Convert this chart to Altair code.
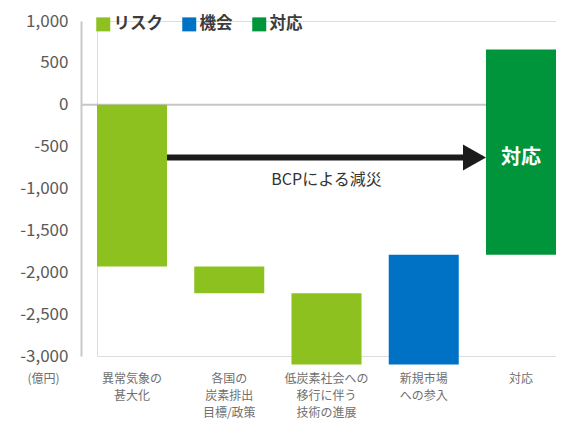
import altair as alt
import pandas as pd

categories = ["異常気象の|甚大化", "各国の|炭素排出|目標/政策", "低炭素社会への|移行に伴う|技術の進展", "新規市場|への参入", "対応"]
bar_start = [0, -1930, -2250, -3100, -1790]
bar_end = [-1930, -2250, -3100, -1790, 660]
bar_type = ["リスク", "リスク", "リスク", "機会", "対応"]
legend_names = ["リスク", "機会", "対応"]
legend_colors = ["#8CC11F", "#0072C5", "#00953A"]
y_ticks = [-3000, -2500, -2000, -1500, -1000, -500, 0, 500, 1000]
y_unit = "(億円)"

arrow_from = [categories[0]]
arrow_to = [categories[4]]
arrow_level = [-630]
note_text = ["BCPによる減災"]
note_cat = [categories[2]]
note_level = [-900]
inner_text = ["対応"]
inner_cat = [categories[4]]
inner_level = [-630]

FONT = "Noto Sans CJK JP"
W, H = 459, 335
AXIS_GAP = 16

df = pd.DataFrame({"cat": categories, "start": bar_start, "end": bar_end, "type": bar_type})
arrow_df = pd.DataFrame({"a": arrow_from, "b": arrow_to, "y": arrow_level})
note_df = pd.DataFrame({"cat": note_cat, "y": note_level, "t": note_text})
inner_df = pd.DataFrame({"cat": inner_cat, "y": inner_level, "t": inner_text})
zero_df = pd.DataFrame({"v": [0]})

xscale = alt.Scale(domain=categories, paddingInner=0.28, paddingOuter=0)
yscale = alt.Scale(domain=[-3000, 1000], nice=False, zero=False)

zero = alt.Chart(zero_df).mark_rule(color="#c6c6c6", strokeWidth=2).encode(
    y=alt.Y("v:Q", scale=yscale),
    x=alt.value(-AXIS_GAP),
    x2=alt.value(W)
)

bars = alt.Chart(df).mark_bar().encode(
    x=alt.X("cat:N", scale=xscale, sort=categories, title=None,
            axis=alt.Axis(labelExpr="split(datum.label, '|')", labelAngle=0,
                          domain=False, ticks=False, labelFont=FONT,
                          labelFontSize=12, labelLineHeight=17.4,
                          labelColor="#6f6f6f", labelPadding=17,
                          labelBaseline="top")),
    y=alt.Y("start:Q", scale=yscale, title=y_unit,
            axis=alt.Axis(values=y_ticks, grid=False, ticks=False, offset=AXIS_GAP,
                          domainColor="#c9c9c9", domainWidth=2,
                          labelExpr="(datum.value < 0 ? '-' : '') + format(abs(datum.value), ',')",
                          labelFont=FONT, labelFontSize=17, labelColor="#5a5a5a",
                          labelPadding=13,
                          titleAngle=0, titleX=-38, titleY=357,
                          titleAlign="center", titleBaseline="middle",
                          titleFont=FONT, titleFontSize=12, titleFontWeight="normal",
                          titleColor="#6f6f6f")),
    y2="end:Q",
    color=alt.Color("type:N", scale=alt.Scale(domain=legend_names, range=legend_colors),
                    legend=alt.Legend(title=None, orient="none", legendX=-2, legendY=-5,
                                      direction="horizontal", symbolType="square",
                                      symbolSize=196, symbolStrokeWidth=0, symbolOpacity=1,
                                      labelFont=FONT, labelFontSize=16.5, labelFontWeight="bold",
                                      labelColor="#3c3c3c", columnPadding=18, labelOffset=2))
)

arrow_line = alt.Chart(arrow_df).mark_rule(color="#1b1b1b", strokeWidth=6, x2Offset=-14).encode(
    x=alt.X("a:N", scale=xscale, bandPosition=1),
    x2=alt.X2("b:N", bandPosition=0),
    y=alt.Y("y:Q", scale=yscale)
)

arrow_head = alt.Chart(arrow_df).mark_point(
    shape="M0,0L-1.77,-1L-1.77,1Z", size=676, filled=True, color="#1b1b1b",
    opacity=1, strokeWidth=0
).encode(
    x=alt.X("b:N", scale=xscale, bandPosition=0),
    y=alt.Y("y:Q", scale=yscale)
)

note = alt.Chart(note_df).mark_text(font=FONT, fontSize=16, color="#333333").encode(
    x=alt.X("cat:N", scale=xscale),
    y=alt.Y("y:Q", scale=yscale),
    text="t:N"
)

inner = alt.Chart(inner_df).mark_text(font=FONT, fontSize=20, fontWeight="bold", color="white").encode(
    x=alt.X("cat:N", scale=xscale),
    y=alt.Y("y:Q", scale=yscale),
    text="t:N"
)

chart = alt.layer(zero, bars, arrow_line, arrow_head, note, inner).properties(
    width=W, height=H,
    padding={"left": 89, "top": 13, "right": 0, "bottom": 70},
    autosize=alt.AutoSizeParams(type="none")
).configure_view(stroke=None).configure(background="white")

chart.save("out.html", embed_options={"renderer": "svg", "actions": False})
